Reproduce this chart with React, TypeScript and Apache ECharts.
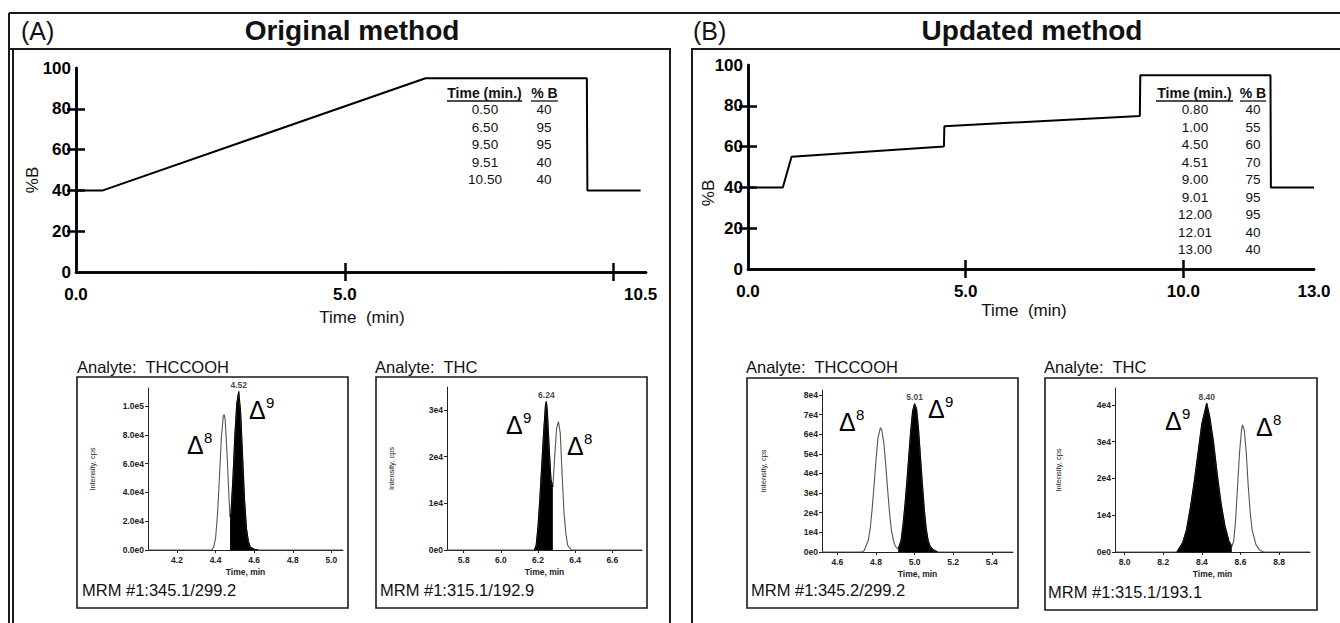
import { useEffect, useRef } from "react";
import * as echarts from "echarts";

const FONT = "'Liberation Sans', Arial, Helvetica, sans-serif";

// ---------- Gradient tables (also drive the gradient lines) ----------
const tableATime = ["0.50", "6.50", "9.50", "9.51", "10.50"];
const tableAB = [40, 95, 95, 40, 40];
const tableBTime = ["0.80", "1.00", "4.50", "4.51", "9.00", "9.01", "12.00", "12.01", "13.00"];
const tableBB = [40, 55, 60, 70, 75, 95, 95, 40, 40];
const startB = 40; // %B at time 0

// ---------- Gradient axes ----------
const gradALabelValues = [0, 5, 10.5];
const gradBLabelValues = [0, 5, 10, 13];
const gradTickValues = [5, 10];
const percentTicks = [20, 40, 60, 80];

// ---------- Chromatograms ----------
// (A) Original method, THCCOOH
const a1Time = [4.05, 4.38, 4.39, 4.40, 4.41, 4.42, 4.43, 4.44, 4.445, 4.45, 4.46, 4.47, 4.475, 4.48, 4.49, 4.50, 4.51, 4.52, 4.53, 4.54, 4.55, 4.56, 4.57, 4.58, 4.60, 4.62, 5.06];
const a1Int = [0, 0, 2000, 8000, 25000, 50000, 78000, 93000, 94000, 90000, 65000, 35000, 23000, 26000, 50000, 80000, 102000, 110000, 95000, 65000, 35000, 15000, 6000, 2000, 500, 0, 0];
const a1Fill = [4.475, 4.62];
const a1XTicks = [4.2, 4.4, 4.6, 4.8, 5.0];
const a1YTicks = [0, 20000, 40000, 60000, 80000, 100000];
const a1YLabels = ["0.0e0", "2.0e4", "4.0e4", "6.0e4", "8.0e4", "1.0e5"];

// (A) Original method, THC
const a2Time = [5.71, 6.18, 6.19, 6.20, 6.21, 6.22, 6.23, 6.24, 6.245, 6.25, 6.26, 6.27, 6.28, 6.29, 6.30, 6.31, 6.32, 6.33, 6.34, 6.35, 6.36, 6.38, 6.76];
const a2Int = [0, 0, 1000, 5000, 11000, 18000, 25000, 31000, 31800, 30000, 22000, 15000, 13500, 20000, 26000, 27500, 25000, 16000, 8000, 3500, 1000, 0, 0];
const a2Fill = [6.18, 6.28];
const a2XTicks = [5.8, 6.0, 6.2, 6.4, 6.6];
const a2YTicks = [0, 10000, 20000, 30000];
const a2YLabels = ["0e0", "1e4", "2e4", "3e4"];

// (B) Updated method, THCCOOH
const b1Time = [4.52, 4.73, 4.74, 4.76, 4.77, 4.78, 4.79, 4.80, 4.81, 4.823, 4.83, 4.84, 4.85, 4.86, 4.87, 4.88, 4.89, 4.90, 4.915, 4.93, 4.94, 4.95, 4.96, 4.97, 4.98, 4.99, 5.00, 5.01, 5.02, 5.03, 5.04, 5.05, 5.06, 5.07, 5.08, 5.10, 5.12, 5.51];
const b1Int = [0, 0, 1000, 6000, 12000, 22000, 34000, 47000, 58000, 63300, 62000, 56000, 45000, 32000, 20000, 11000, 6000, 3000, 1500, 6000, 14000, 24000, 36000, 49000, 62000, 72000, 75500, 73000, 63000, 49000, 35000, 22000, 12000, 6000, 3000, 1000, 0, 0];
const b1Fill = [4.915, 5.12];
const b1XTicks = [4.6, 4.8, 5.0, 5.2, 5.4];
const b1YTicks = [0, 10000, 20000, 30000, 40000, 50000, 60000, 70000, 80000];
const b1YLabels = ["0e0", "1e4", "2e4", "3e4", "4e4", "5e4", "6e4", "7e4", "8e4"];

// (B) Updated method, THC
const b2Time = [7.95, 8.27, 8.30, 8.32, 8.34, 8.36, 8.38, 8.40, 8.425, 8.44, 8.46, 8.48, 8.50, 8.52, 8.54, 8.555, 8.565, 8.575, 8.585, 8.595, 8.605, 8.61, 8.62, 8.63, 8.64, 8.65, 8.66, 8.68, 8.70, 8.72, 8.96];
const b2Int = [0, 0, 2500, 6000, 12000, 19000, 27000, 35000, 40500, 37000, 30000, 21000, 13000, 7000, 3000, 1500, 3000, 9000, 18000, 27000, 33000, 34600, 33000, 27000, 18000, 11000, 6000, 2000, 500, 0, 0];
const b2Fill = [8.27, 8.555];
const b2XTicks = [8.0, 8.2, 8.4, 8.6, 8.8];
const b2YTicks = [0, 10000, 20000, 30000, 40000];
const b2YLabels = ["0e0", "1e4", "2e4", "3e4", "4e4"];

const peakLabels = [4.52, 6.24, 5.01, 8.4];
const analytes = ["THCCOOH", "THC", "THCCOOH", "THC"];
const mrms = ["MRM #1:345.1/299.2", "MRM #1:315.1/192.9", "MRM #1:345.2/299.2", "MRM #1:315.1/193.1"];

// ---------- Layout ----------
const chromLayout = [
  { grid: { left: 148, top: 388, width: 195, height: 162 }, xMin: 4.05, xMax: 5.06, yMax: 112500, nameGap: 52,
    box: [77, 377, 271, 231], analyte: [77, 367], mrm: [82, 590],
    d9: [250, 410], d8: [188, 445] },
  { grid: { left: 447, top: 387, width: 195, height: 163 }, xMin: 5.71, xMax: 6.76, yMax: 34900, nameGap: 52,
    box: [376, 377, 271, 231], analyte: [375, 367], mrm: [380, 590],
    d9: [507, 425], d8: [568, 446] },
  { grid: { left: 822, top: 390, width: 191, height: 162 }, xMin: 4.52, xMax: 5.51, yMax: 82500, nameGap: 55,
    box: [747, 378, 271, 230], analyte: [746, 367], mrm: [751, 590],
    d9: [929, 409], d8: [840, 422] },
  { grid: { left: 1115, top: 388, width: 195, height: 164 }, xMin: 7.95, xMax: 8.96, yMax: 44600, nameGap: 53,
    box: [1045, 378, 272, 232], analyte: [1044, 367], mrm: [1048, 592],
    d9: [1166, 421], d8: [1257, 427] },
];

const chromData = [
  { t: a1Time, v: a1Int, fill: a1Fill, xt: a1XTicks, yt: a1YTicks, yl: a1YLabels },
  { t: a2Time, v: a2Int, fill: a2Fill, xt: a2XTicks, yt: a2YTicks, yl: a2YLabels },
  { t: b1Time, v: b1Int, fill: b1Fill, xt: b1XTicks, yt: b1YTicks, yl: b1YLabels },
  { t: b2Time, v: b2Int, fill: b2Fill, xt: b2XTicks, yt: b2YTicks, yl: b2YLabels },
];

function gradAxes(gridIndex: number, max: number, labelValues: number[]) {
  const lineStyle = { color: "#000", width: 2.5 };
  const x = [
    {
      type: "value", gridIndex, min: 0, max, position: "bottom",
      axisLine: { show: true, lineStyle },
      axisTick: { show: true, inside: true, length: 9, customValues: gradTickValues, lineStyle },
      axisLabel: { customValues: labelValues, formatter: (v: number) => v.toFixed(1), fontSize: 17, fontWeight: "bold", fontFamily: FONT, color: "#000", margin: 14 },
      splitLine: { show: false },
    },
    {
      type: "value", gridIndex, min: 0, max, position: "top",
      axisLine: { show: true, lineStyle },
      axisTick: { show: true, inside: true, length: 9, customValues: gradTickValues, lineStyle },
      axisLabel: { show: false },
      splitLine: { show: false },
    },
  ];
  const y = [
    {
      type: "value", gridIndex, min: 0, max: 100, interval: 20, position: "left",
      axisLine: { show: true, lineStyle },
      axisTick: { show: true, inside: true, length: 9, customValues: percentTicks, lineStyle },
      axisLabel: { fontSize: 17, fontWeight: "bold", fontFamily: FONT, color: "#000", margin: 5 },
      splitLine: { show: false },
    },
    {
      type: "value", gridIndex, min: 0, max: 100, interval: 20, position: "right",
      axisLine: { show: true, lineStyle },
      axisTick: { show: true, inside: true, length: 9, customValues: percentTicks, lineStyle },
      axisLabel: { show: false },
      splitLine: { show: false },
    },
  ];
  return { x, y };
}

function deltaLabel(pos: number[], sup: string) {
  return [
    { type: "text", x: pos[0] - 1, y: pos[1], style: { text: "Δ", fontSize: 25, fontFamily: FONT, fill: "#000", verticalAlign: "middle" } },
    { type: "text", x: pos[0] + 16, y: pos[1] - 8, style: { text: sup, fontSize: 15, fontFamily: FONT, fill: "#000", verticalAlign: "middle" } },
  ];
}

function buildOption() {
  const gA = gradAxes(0, 10.6, gradALabelValues);
  const gB = gradAxes(1, 13.0, gradBLabelValues);

  const xAxis: any[] = [...gA.x, ...gB.x];
  const yAxis: any[] = [...gA.y, ...gB.y];
  const grid: any[] = [
    { left: 76, top: 68, width: 570, height: 204 },
    { left: 748, top: 65, width: 566, height: 204 },
  ];
  const series: any[] = [
    {
      type: "line", xAxisIndex: 0, yAxisIndex: 0, symbol: "none",
      lineStyle: { color: "#000", width: 2 },
      data: [[0, startB], ...tableATime.map((t, i) => [parseFloat(t), tableAB[i]])],
    },
    {
      type: "line", xAxisIndex: 2, yAxisIndex: 2, symbol: "none",
      lineStyle: { color: "#000", width: 2 },
      data: [[0, startB], ...tableBTime.map((t, i) => [parseFloat(t), tableBB[i]])],
    },
  ];

  const small = { fontSize: 8.5, fontWeight: "bold", fontFamily: FONT, color: "#222" };
  const thin = { color: "#222", width: 1 };

  chromLayout.forEach((L, i) => {
    const D = chromData[i];
    const gi = grid.length;
    const ai = xAxis.length;
    grid.push(L.grid);
    xAxis.push({
      type: "value", gridIndex: gi, min: L.xMin, max: L.xMax,
      axisLine: { show: true, lineStyle: thin },
      axisTick: { show: true, length: 3, customValues: D.xt, lineStyle: thin },
      axisLabel: { customValues: D.xt, formatter: (v: number) => v.toFixed(1), margin: 5, ...small },
      splitLine: { show: false },
      name: "Time, min", nameLocation: "middle", nameGap: 17,
      nameTextStyle: { ...small, fontSize: 8.5 },
    });
    yAxis.push({
      type: "value", gridIndex: gi, min: 0, max: L.yMax,
      axisLine: { show: true, lineStyle: thin },
      axisTick: { show: true, length: 3, customValues: D.yt, lineStyle: thin },
      axisLabel: {
        customValues: D.yt, margin: 4, ...small,
        formatter: (v: number) => D.yl[D.yt.indexOf(v)] ?? "",
      },
      splitLine: { show: false },
      name: "Intensity, cps", nameLocation: "middle", nameGap: L.nameGap,
      nameTextStyle: { fontSize: 7.5, fontFamily: FONT, color: "#222" },
    });
    const pts = D.t.map((t, k) => [t, D.v[k]]);
    const fillPts = pts.filter(([t]) => t >= D.fill[0] - 1e-9 && t <= D.fill[1] + 1e-9);
    let apex = fillPts[0];
    fillPts.forEach((p) => { if (p[1] > apex[1]) apex = p; });
    series.push({
      type: "line", xAxisIndex: ai, yAxisIndex: ai, symbol: "none",
      lineStyle: { color: "#555", width: 1.1 }, data: pts,
    });
    series.push({
      type: "line", xAxisIndex: ai, yAxisIndex: ai, symbol: "none",
      lineStyle: { color: "#000", width: 1 }, areaStyle: { color: "#000", opacity: 1 }, data: fillPts,
    });
    series.push({
      type: "scatter", xAxisIndex: ai, yAxisIndex: ai, symbolSize: 0,
      data: [apex],
      label: { show: true, position: "top", distance: 2, formatter: () => peakLabels[i].toFixed(2), ...small, color: "#111" },
    });
  });

  const stroke = "#1a1a1a";
  const elements: any[] = [
    { type: "line", shape: { x1: 9, y1: 13, x2: 1340, y2: 13 }, style: { stroke, lineWidth: 2 } },
    { type: "line", shape: { x1: 9, y1: 13, x2: 9, y2: 623 }, style: { stroke, lineWidth: 2 } },
    { type: "line", shape: { x1: 9, y1: 49, x2: 13, y2: 49 }, style: { stroke, lineWidth: 2 } },
    { type: "rect", shape: { x: 13, y: 49, width: 657, height: 600 }, style: { fill: "none", stroke, lineWidth: 2 } },
    { type: "rect", shape: { x: 692, y: 49, width: 660, height: 600 }, style: { fill: "none", stroke, lineWidth: 2 } },
    { type: "text", x: 21, y: 31, style: { text: "(A)", fontSize: 25, fontFamily: FONT, fill: "#111", verticalAlign: "middle" } },
    { type: "text", x: 352, y: 30, style: { text: "Original method", fontSize: 28, fontWeight: "bold", fontFamily: FONT, fill: "#111", align: "center", verticalAlign: "middle" } },
    { type: "text", x: 693, y: 31, style: { text: "(B)", fontSize: 25, fontFamily: FONT, fill: "#111", verticalAlign: "middle" } },
    { type: "text", x: 1032, y: 30, style: { text: "Updated method", fontSize: 28, fontWeight: "bold", fontFamily: FONT, fill: "#111", align: "center", verticalAlign: "middle" } },
    { type: "text", x: 32, y: 180, rotation: Math.PI / 2, style: { text: "%B", fontSize: 17, fontFamily: FONT, fill: "#111", align: "center", verticalAlign: "middle" } },
    { type: "text", x: 708, y: 193, rotation: Math.PI / 2, style: { text: "%B", fontSize: 17, fontFamily: FONT, fill: "#111", align: "center", verticalAlign: "middle" } },
    { type: "text", x: 362, y: 317, style: { text: "Time  (min)", fontSize: 17, fontFamily: FONT, fill: "#111", align: "center", verticalAlign: "middle" } },
    { type: "text", x: 1024, y: 310, style: { text: "Time  (min)", fontSize: 17, fontFamily: FONT, fill: "#111", align: "center", verticalAlign: "middle" } },
  ];

  // tables
  const tables = [
    { times: tableATime, bs: tableAB, tc: 485, bc: 544, ul: [[447, 522], [531, 558]] },
    { times: tableBTime, bs: tableBB, tc: 1195, bc: 1253, ul: [[1156, 1233], [1240, 1266]] },
  ];
  tables.forEach((T) => {
    const hStyle = { fontSize: 14, fontWeight: "bold", fontFamily: FONT, fill: "#111", align: "center", verticalAlign: "middle" };
    elements.push({ type: "text", x: (T.ul[0][0] + T.ul[0][1]) / 2, y: 93, style: { text: "Time (min.)", ...hStyle } });
    elements.push({ type: "text", x: (T.ul[1][0] + T.ul[1][1]) / 2, y: 93, style: { text: "% B", ...hStyle } });
    T.ul.forEach(([a, b]) => elements.push({ type: "line", shape: { x1: a, y1: 101, x2: b, y2: 101 }, style: { stroke: "#111", lineWidth: 1.3 } }));
    T.times.forEach((t, k) => {
      const rs = { fontSize: 13.5, fontFamily: FONT, fill: "#111", align: "center", verticalAlign: "middle" };
      elements.push({ type: "text", x: T.tc, y: 109.5 + k * 17.55, style: { text: t, ...rs } });
      elements.push({ type: "text", x: T.bc, y: 109.5 + k * 17.55, style: { text: String(T.bs[k]), ...rs } });
    });
  });

  chromLayout.forEach((L, i) => {
    elements.push({ type: "rect", shape: { x: L.box[0], y: L.box[1], width: L.box[2], height: L.box[3] }, style: { fill: "none", stroke, lineWidth: 1.6 } });
    elements.push({ type: "text", x: L.analyte[0], y: L.analyte[1], style: { text: "Analyte:  " + analytes[i], fontSize: 16.5, fontFamily: FONT, fill: "#111", verticalAlign: "middle" } });
    elements.push({ type: "text", x: L.mrm[0], y: L.mrm[1], style: { text: mrms[i], fontSize: 16.5, fontFamily: FONT, fill: "#111", verticalAlign: "middle" } });
    elements.push(...deltaLabel(L.d9, "9"));
    elements.push(...deltaLabel(L.d8, "8"));
  });

  return {
    animation: false,
    backgroundColor: "#fff",
    grid, xAxis, yAxis, series,
    graphic: { elements },
  };
}

export default function App() {
  const ref = useRef<HTMLDivElement>(null);
  useEffect(() => {
    if (!ref.current) return;
    const chart = echarts.init(ref.current, undefined, { renderer: "svg" });
    chart.setOption(buildOption() as any);
    return () => chart.dispose();
  }, []);
  return <div ref={ref} style={{ position: "absolute", left: 0, top: 0, width: 1340, height: 623 }} />;
}
